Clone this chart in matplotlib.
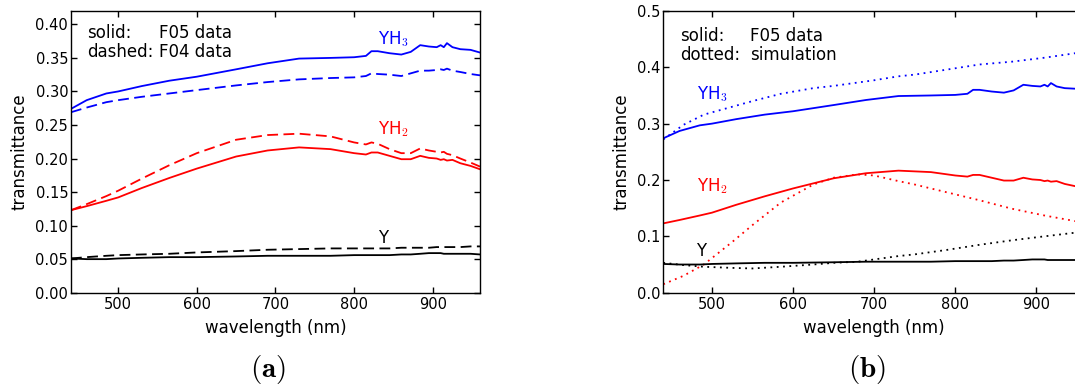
import matplotlib
matplotlib.use("Agg")
import matplotlib.pyplot as plt

plt.rcParams['font.family'] = ['DejaVu Sans']
plt.rcParams['mathtext.fontset'] = 'cm'

# --- F05 measured transmittance (both panels) ---
wl_f05 = [440, 460, 485, 500, 530, 565, 600, 650, 690, 730, 770, 800, 815, 822,
          830, 845, 860, 872, 884, 895, 905, 910, 914, 918, 925, 935, 948, 960]
yh3_f05 = [0.274, 0.287, 0.297, 0.300, 0.308, 0.316, 0.322, 0.333, 0.342, 0.349,
           0.350, 0.351, 0.353, 0.360, 0.360, 0.357, 0.355, 0.359, 0.369, 0.367,
           0.366, 0.369, 0.366, 0.372, 0.366, 0.363, 0.362, 0.358]
yh2_f05 = [0.123, 0.129, 0.137, 0.142, 0.156, 0.171, 0.185, 0.203, 0.212, 0.2166,
           0.214, 0.208, 0.206, 0.209, 0.209, 0.204, 0.199, 0.199, 0.204, 0.201,
           0.200, 0.198, 0.199, 0.197, 0.198, 0.193, 0.189, 0.184]
y_f05 = [0.051, 0.050, 0.050, 0.051, 0.052, 0.053, 0.053, 0.054, 0.055, 0.055,
         0.055, 0.056, 0.056, 0.056, 0.056, 0.056, 0.057, 0.057, 0.058, 0.059,
         0.059, 0.059, 0.058, 0.058, 0.058, 0.058, 0.058, 0.057]

# --- F04 measured transmittance (panel a, dashed) ---
wl_f04 = wl_f05
yh3_f04 = [0.269, 0.276, 0.284, 0.287, 0.292, 0.297, 0.302, 0.309, 0.314, 0.318,
           0.320, 0.321, 0.323, 0.327, 0.326, 0.325, 0.323, 0.327, 0.331, 0.331,
           0.332, 0.333, 0.332, 0.334, 0.331, 0.329, 0.326, 0.324]
yh2_f04 = [0.123, 0.132, 0.144, 0.152, 0.170, 0.190, 0.208, 0.228, 0.235, 0.237,
           0.233, 0.224, 0.221, 0.224, 0.222, 0.214, 0.208, 0.208, 0.215, 0.212,
           0.210, 0.209, 0.210, 0.207, 0.205, 0.200, 0.194, 0.188]
y_f04 = [0.051, 0.053, 0.055, 0.056, 0.057, 0.058, 0.060, 0.062, 0.064, 0.065,
         0.066, 0.066, 0.066, 0.066, 0.066, 0.066, 0.067, 0.067, 0.067, 0.067,
         0.068, 0.068, 0.068, 0.068, 0.068, 0.068, 0.069, 0.069]

# --- simulation (panel b, dotted) ---
wl_sim = [440, 465, 490, 525, 550, 585, 625, 650, 680, 700, 730, 750, 790, 830,
          870, 910, 948, 960]
yh3_sim = [0.272, 0.298, 0.316, 0.330, 0.340, 0.353, 0.363, 0.367, 0.373, 0.377,
           0.384, 0.387, 0.396, 0.405, 0.410, 0.417, 0.425, 0.426]
yh2_sim = [0.015, 0.030, 0.050, 0.090, 0.120, 0.160, 0.192, 0.204, 0.210, 0.208,
           0.198, 0.192, 0.178, 0.164, 0.149, 0.137, 0.127, 0.124]
y_sim = [0.053, 0.049, 0.046, 0.044, 0.043, 0.046, 0.050, 0.053, 0.055, 0.059,
         0.065, 0.068, 0.076, 0.085, 0.093, 0.100, 0.1065, 0.108]

xticks = [500, 600, 700, 800, 900]
yticks_a = [0.00, 0.05, 0.10, 0.15, 0.20, 0.25, 0.30, 0.35, 0.40]
yticks_b = [0.0, 0.1, 0.2, 0.3, 0.4, 0.5]

BLUE, RED, BLACK = '#0000ff', '#ff0000', '#000000'
DASH = (0, (6, 3))
DOT = (0, (1, 2.5))
LW = 1.3

fig = plt.figure(figsize=(10.75, 3.87), dpi=100)
ax_a = fig.add_axes([0.066, 0.2437, 0.3805, 0.728])
ax_b = fig.add_axes([0.617, 0.2437, 0.3923, 0.728])


def style_axes(ax, yticks, fmt):
    ax.set_xlim(440, 960)
    ax.set_xticks(xticks)
    ax.set_yticks(yticks)
    ax.set_yticklabels([fmt.format(v) for v in yticks])
    ax.tick_params(direction='in', top=True, right=True, length=4, width=1,
                   labelsize=10.5)
    ax.tick_params(axis='x', pad=3)
    ax.tick_params(axis='y', pad=2)
    for s in ax.spines.values():
        s.set_linewidth(1.0)
    ax.set_xlabel('wavelength (nm)', fontsize=12, labelpad=5)
    ax.set_ylabel('transmittance', fontsize=12, labelpad=5)


# Panel (a): F05 vs F04
ax_a.plot(wl_f05, yh3_f05, color=BLUE, lw=LW)
ax_a.plot(wl_f04, yh3_f04, color=BLUE, lw=LW, ls=DASH)
ax_a.plot(wl_f05, yh2_f05, color=RED, lw=LW)
ax_a.plot(wl_f04, yh2_f04, color=RED, lw=LW, ls=DASH)
ax_a.plot(wl_f05, y_f05, color=BLACK, lw=LW)
ax_a.plot(wl_f04, y_f04, color=BLACK, lw=LW, ls=DASH)
ax_a.set_ylim(0, 0.42)
style_axes(ax_a, yticks_a, '{:.2f}')
ax_a.text(830, 0.371, 'YH$_3$', color=BLUE, fontsize=12, va='baseline')
ax_a.text(830, 0.2367, 'YH$_2$', color=RED, fontsize=12, va='baseline')
ax_a.text(830, 0.0748, 'Y', color=BLACK, fontsize=12, va='baseline')
ax_a.text(0.039, 0.922, 'solid:', transform=ax_a.transAxes, fontsize=12, va='center')
ax_a.text(0.216, 0.922, 'F05 data', transform=ax_a.transAxes, fontsize=12, va='center')
ax_a.text(0.039, 0.854, 'dashed:', transform=ax_a.transAxes, fontsize=12, va='center')
ax_a.text(0.216, 0.854, 'F04 data', transform=ax_a.transAxes, fontsize=12, va='center')

# Panel (b): F05 vs simulation
ax_b.plot(wl_f05, yh3_f05, color=BLUE, lw=LW)
ax_b.plot(wl_sim, yh3_sim, color=BLUE, lw=LW, ls=DOT)
ax_b.plot(wl_f05, yh2_f05, color=RED, lw=LW)
ax_b.plot(wl_sim, yh2_sim, color=RED, lw=LW, ls=DOT)
ax_b.plot(wl_f05, y_f05, color=BLACK, lw=LW)
ax_b.plot(wl_sim, y_sim, color=BLACK, lw=LW, ls=DOT)
ax_b.set_ylim(0, 0.5)
style_axes(ax_b, yticks_b, '{:.1f}')
ax_b.text(481, 0.343, 'YH$_3$', color=BLUE, fontsize=12, va='baseline')
ax_b.text(481, 0.181, 'YH$_2$', color=RED, fontsize=12, va='baseline')
ax_b.text(481, 0.065, 'Y', color=BLACK, fontsize=12, va='baseline')
ax_b.text(0.040, 0.911, 'solid:', transform=ax_b.transAxes, fontsize=12, va='center')
ax_b.text(0.2056, 0.911, 'F05 data', transform=ax_b.transAxes, fontsize=12, va='center')
ax_b.text(0.040, 0.844, 'dotted:', transform=ax_b.transAxes, fontsize=12, va='center')
ax_b.text(0.2056, 0.844, 'simulation', transform=ax_b.transAxes, fontsize=12, va='center')

# Sub-figure captions
fig.text(268 / 1075, 1 - 370 / 387, r'$\mathbf{(a)}$', fontsize=21, ha='center', va='center')
fig.text(867 / 1075, 1 - 370 / 387, r'$\mathbf{(b)}$', fontsize=21, ha='center', va='center')

fig.savefig('out.png', dpi=100)
